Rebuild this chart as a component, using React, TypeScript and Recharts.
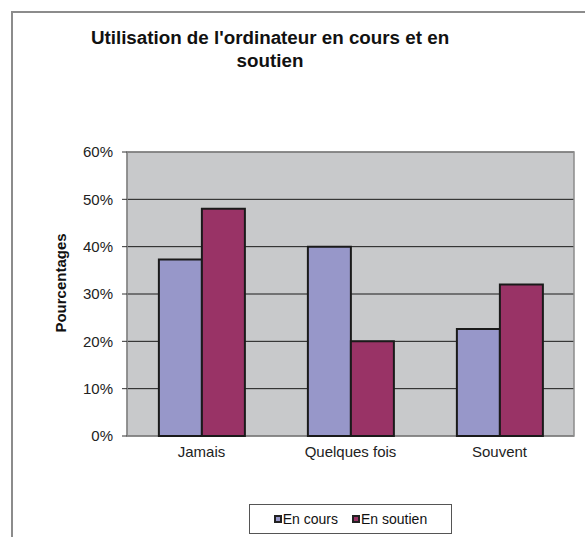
import React from "react";
import { BarChart, Bar, XAxis, YAxis, CartesianGrid, ReferenceArea } from "recharts";

const categories = ["Jamais", "Quelques fois", "Souvent"];
const enCours = [0.373, 0.4, 0.226];
const enSoutien = [0.48, 0.2, 0.32];
const seriesNames = ["En cours", "En soutien"];
const yTicks = [0, 0.1, 0.2, 0.3, 0.4, 0.5, 0.6];
const boundaryTicks = [0, 1, 2, 3];
const titleLines = ["Utilisation de l'ordinateur en cours et en", "soutien"];
const yLabel = "Pourcentages";

const colors = ["#9797C9", "#993366"];
const FONT = "'Liberation Sans', Arial, sans-serif";

const data = categories.map((c, i) => ({ cat: c, a: enCours[i], b: enSoutien[i] }));

const YLabel = (props: any) => {
  const vb = props.viewBox || {};
  const cx = vb.x - 7;
  const cy = vb.y + vb.height / 2 - 11;
  return (
    <text
      x={cx}
      y={cy}
      transform={`rotate(-90, ${cx}, ${cy})`}
      textAnchor="middle"
      dominantBaseline="central"
      fontSize={15}
      fontWeight="bold"
      fill="#111"
      fontFamily={FONT}
    >
      {yLabel}
    </text>
  );
};

export default function App() {
  return (
    <div
      style={{
        position: "absolute",
        left: 0,
        top: 0,
        width: 585,
        height: 537,
        overflow: "hidden",
        background: "#fff",
        fontFamily: FONT,
      }}
    >
      <div
        style={{
          position: "absolute",
          left: 11,
          top: 11,
          width: 700,
          height: 700,
          borderLeft: "2px solid #8c8c8c",
          borderTop: "2px solid #8c8c8c",
        }}
      />
      <div
        style={{
          position: "absolute",
          left: 0,
          width: 540,
          top: 26,
          textAlign: "center",
          fontWeight: "bold",
          fontSize: 18.8,
          lineHeight: "23px",
          color: "#111",
        }}
      >
        {titleLines.map((t, i) => (
          <div key={i}>{t}</div>
        ))}
      </div>
      <div style={{ position: "absolute", left: 0, top: 0 }}>
        <BarChart
          width={585}
          height={537}
          data={data}
          margin={{ top: 152, right: 11, bottom: 71, left: 67 }}
          barCategoryGap="21.4%"
          barGap={0}
        >
          <CartesianGrid vertical={false} fill="#C8C9CB" stroke="#1a1a1a" strokeOpacity={1} />
          <XAxis
            xAxisId="b"
            type="number"
            dataKey="idx"
            domain={[0, 3]}
            ticks={boundaryTicks}
            allowDataOverflow
            height={0}
            tickSize={5}
            tickFormatter={() => ""}
            stroke="#808080"
            axisLine={{ stroke: "#808080" }}
            tickLine={{ stroke: "#333" }}
          />
          <XAxis
            dataKey="cat"
            height={30}
            axisLine={false}
            tickLine={false}
            tickSize={0}
            tickMargin={10}
            tick={{ fontSize: 15, fill: "#222", fontFamily: FONT }}
          />
          <YAxis
            width={60}
            domain={[0, 0.6]}
            ticks={yTicks}
            tickFormatter={(v: number) => `${Math.round(v * 100)}%`}
            tickSize={5}
            tickMargin={9}
            tick={{ fontSize: 15, fill: "#222", fontFamily: FONT }}
            axisLine={{ stroke: "#808080" }}
            tickLine={{ stroke: "#333" }}
            label={<YLabel />}
          />
          <ReferenceArea y1={0} y2={0.6} fill="none" stroke="#8c8c8c" strokeWidth={1.5} ifOverflow="visible" />
          <Bar dataKey="a" name={seriesNames[0]} fill={colors[0]} stroke="#1a1a1a" strokeWidth={2} isAnimationActive={false} />
          <Bar dataKey="b" name={seriesNames[1]} fill={colors[1]} stroke="#1a1a1a" strokeWidth={2} isAnimationActive={false} />
        </BarChart>
      </div>
      <div
        style={{
          position: "absolute",
          left: 249,
          top: 504,
          width: 201,
          height: 28,
          border: "1px solid #555",
          display: "flex",
          alignItems: "center",
          justifyContent: "center",
          gap: 14,
          fontSize: 14,
          color: "#111",
        }}
      >
        {seriesNames.map((n, i) => (
          <div key={n} style={{ display: "flex", alignItems: "center" }}>
            <span
              style={{
                display: "inline-block",
                width: 4,
                height: 4,
                background: colors[i],
                border: "2px solid #222",
                marginRight: 1,
              }}
            />
            <span>{n}</span>
          </div>
        ))}
      </div>
    </div>
  );
}
